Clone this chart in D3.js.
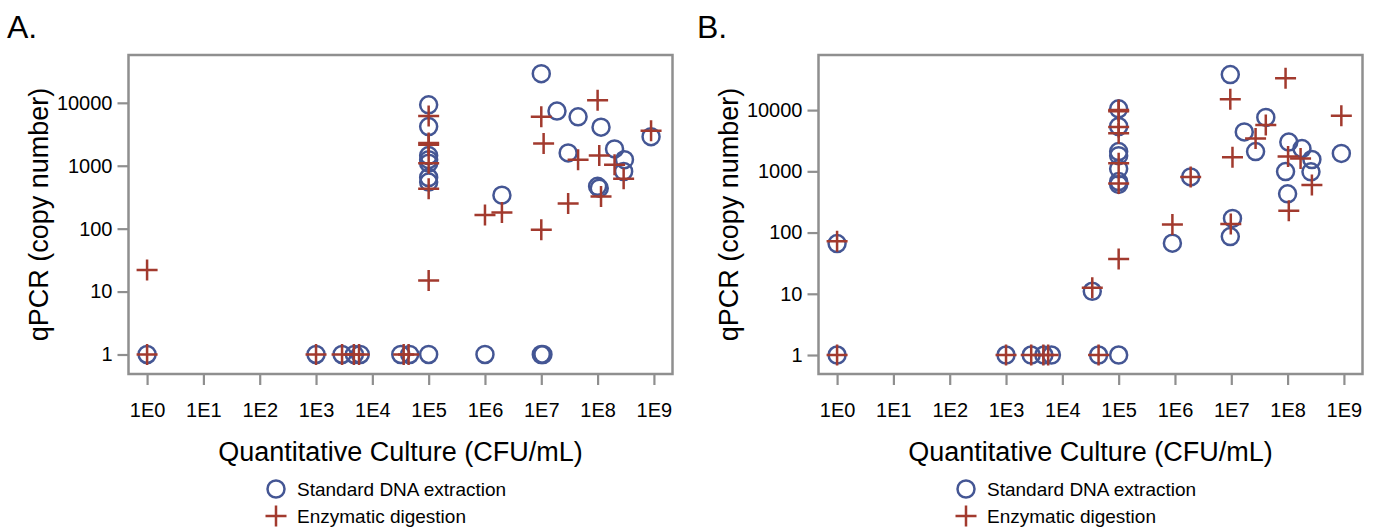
<!DOCTYPE html>
<html>
<head>
<meta charset="utf-8">
<script src="https://cdn.jsdelivr.net/npm/d3@7"></script>
<style>
  body { margin: 0; background: #fff; }
  svg text { font-family: "Liberation Sans", Arial, sans-serif; fill: #000; }
</style>
</head>
<body>
<svg id="chart" width="1374" height="529"></svg>
<script>
/* ======================= DATA ======================= */
const xTickValues = [1e0, 1e1, 1e2, 1e3, 1e4, 1e5, 1e6, 1e7, 1e8, 1e9];
const xTickLabels = ["1E0", "1E1", "1E2", "1E3", "1E4", "1E5", "1E6", "1E7", "1E8", "1E9"];
const yTickValues = [1, 10, 100, 1000, 10000];
const seriesNames = ["Standard DNA extraction", "Enzymatic digestion"];
const panelLabels = ["A.", "B."];

// panel A: [culture CFU/mL, qPCR copy number]
const aStandard = [
    [1, 1], [1e3, 1], [2.9e3, 1], [4.8e3, 1], [6.1e3, 1], [3.2e4, 1], [4.6e4, 1],
    [1e5, 1], [1e6, 1], [1e7, 1], [1.07e7, 1],
    [1e5, 9300], [1e5, 4200], [1e5, 1450], [1e5, 1250], [1e5, 1100], [1e5, 650], [1e5, 550],
    [2e6, 340], [1e7, 29000], [1.9e7, 7400], [4.5e7, 6000], [3e7, 1600],
    [1.15e8, 4100], [2e8, 1850], [3e8, 1250], [2.9e8, 810], [1e8, 470], [1.07e8, 440], [8.9e8, 2900]
];
const aEnzymatic = [
    [1, 1], [1, 22], [1e3, 1], [2.9e3, 1], [4.7e3, 1], [5.8e3, 1], [3.6e4, 1], [4.4e4, 1],
    [1e5, 6200], [1e5, 2300], [1e5, 2150], [1e5, 1100], [1e5, 430], [1e5, 15],
    [1e6, 165], [2e6, 180], [1e7, 6000], [1.1e7, 2250], [1e7, 96],
    [4.5e7, 1250], [3e7, 250], [1e8, 11000], [1.07e8, 1450], [2e8, 1040], [2.9e8, 620],
    [1.15e8, 325], [8.9e8, 3600]
];

// panel B
const bStandard = [
    [1, 1], [1, 66], [1e3, 1], [2.8e3, 1], [4.7e3, 1], [6.4e3, 1], [3.4e4, 11], [4.4e4, 1], [1e5, 1],
    [1e5, 10500], [1e5, 5400], [1e5, 2100], [1e5, 1800], [1e5, 1100], [1e5, 680], [1e5, 610],
    [1.9e6, 810], [9e5, 67], [9.6e6, 38000], [1.05e7, 170], [9.6e6, 86],
    [1.7e7, 4400], [4.1e7, 7600], [2.7e7, 2100], [1.05e8, 3000], [9.2e7, 990], [1e8, 430],
    [1.8e8, 2350], [2.7e8, 1560], [2.6e8, 980], [9e8, 1960]
];
const bEnzymatic = [
    [1, 1], [1, 72], [1e3, 1], [2.8e3, 1], [4.6e3, 1], [5.6e3, 1], [3.4e4, 12.5], [4.4e4, 1],
    [1e5, 10000], [1e5, 9600], [1e5, 5300], [1e5, 4200], [1e5, 1350], [1e5, 630], [1e5, 37],
    [1.9e6, 810], [9e5, 135], [9.6e6, 15000], [1.05e7, 1700], [9.8e6, 138],
    [4.1e7, 5700], [2.7e7, 3450], [9.2e7, 33000], [1.02e8, 1740], [1.05e8, 228],
    [1.7e8, 1620], [2.7e8, 600], [9e8, 8100]
];

const panels = [
    { label: panelLabels[0], offset: 0,   yTop: Math.pow(10, 4.76), standard: aStandard, enzymatic: aEnzymatic },
    { label: panelLabels[1], offset: 690, yTop: Math.pow(10, 4.90), standard: bStandard, enzymatic: bEnzymatic }
];

/* ======================= STYLE ====================== */
const blue = "#445694";
const red = "#a23a2e";
const frameGray = "#8f8f8f";
const plot = { left: 128.5, right: 672.5, top: 55, bottom: 374 };

const svg = d3.select("#chart");

function plusPath(s) {
    return `M${-s},0H${s}M0,${-s}V${s}`;
}

/* ==================== DRAW PANELS =================== */
panels.forEach(p => {
    const g = svg.append("g").attr("transform", `translate(${p.offset},0)`);

    const x = d3.scaleLog()
                .domain([Math.pow(10, -0.33), Math.pow(10, 9.33)])
                .range([plot.left, plot.right]);
    const y = d3.scaleLog()
                .domain([Math.pow(10, -0.31), p.yTop])
                .range([plot.bottom, plot.top]);

    g.append("text")
     .attr("x", 7).attr("y", 38)
     .style("font-size", "32px")
     .text(p.label);

    // x axis
    const xAxis = g.append("g")
                   .attr("transform", `translate(0,${plot.bottom})`)
                   .call(d3.axisBottom(x)
                           .tickValues(xTickValues)
                           .tickFormat((d, i) => xTickLabels[i])
                           .tickSize(11)
                           .tickPadding(18));
    // y axis
    const yAxis = g.append("g")
                   .attr("transform", `translate(${plot.left},0)`)
                   .call(d3.axisLeft(y)
                           .tickValues(yTickValues)
                           .tickFormat(d3.format("d"))
                           .tickSize(11)
                           .tickPadding(5));

    [xAxis, yAxis].forEach(a => {
        a.select(".domain").remove();
        a.selectAll(".tick line").attr("stroke", frameGray).attr("stroke-width", 2.2);
        a.selectAll(".tick text").style("font-size", "20px").attr("fill", "#000");
    });

    g.append("rect")
     .attr("x", plot.left).attr("y", plot.top)
     .attr("width", plot.right - plot.left)
     .attr("height", plot.bottom - plot.top)
     .attr("fill", "none")
     .attr("stroke", frameGray)
     .attr("stroke-width", 2.5);

    // axis titles
    g.append("text")
     .attr("x", (plot.left + plot.right) / 2).attr("y", 461)
     .attr("text-anchor", "middle")
     .style("font-size", "27px")
     .text("Quantitative Culture (CFU/mL)");

    g.append("text")
     .attr("transform", `translate(48,${(plot.top + plot.bottom) / 2}) rotate(-90)`)
     .attr("text-anchor", "middle")
     .style("font-size", "27px")
     .text("qPCR (copy number)");

    // markers
    g.append("g").selectAll("circle")
     .data(p.standard)
     .join("circle")
     .attr("cx", d => x(d[0]))
     .attr("cy", d => y(d[1]))
     .attr("r", 8.5)
     .attr("fill", "none")
     .attr("stroke", blue)
     .attr("stroke-width", 2.5);

    g.append("g").selectAll("path")
     .data(p.enzymatic)
     .join("path")
     .attr("transform", d => `translate(${x(d[0])},${y(d[1])})`)
     .attr("d", plusPath(10.5))
     .attr("stroke", red)
     .attr("stroke-width", 2.5);

    // legend
    const lg = g.append("g").attr("transform", "translate(276,0)");
    lg.append("circle")
      .attr("cx", 0).attr("cy", 489).attr("r", 8.5)
      .attr("fill", "none").attr("stroke", blue).attr("stroke-width", 2.5);
    lg.append("path")
      .attr("transform", "translate(0,516)")
      .attr("d", plusPath(10.5))
      .attr("stroke", red).attr("stroke-width", 2.5);
    lg.selectAll("text")
      .data(seriesNames)
      .join("text")
      .attr("x", 21)
      .attr("y", (d, i) => 496 + i * 27)
      .style("font-size", "19px")
      .text(d => d);
});
</script>
</body>
</html>
